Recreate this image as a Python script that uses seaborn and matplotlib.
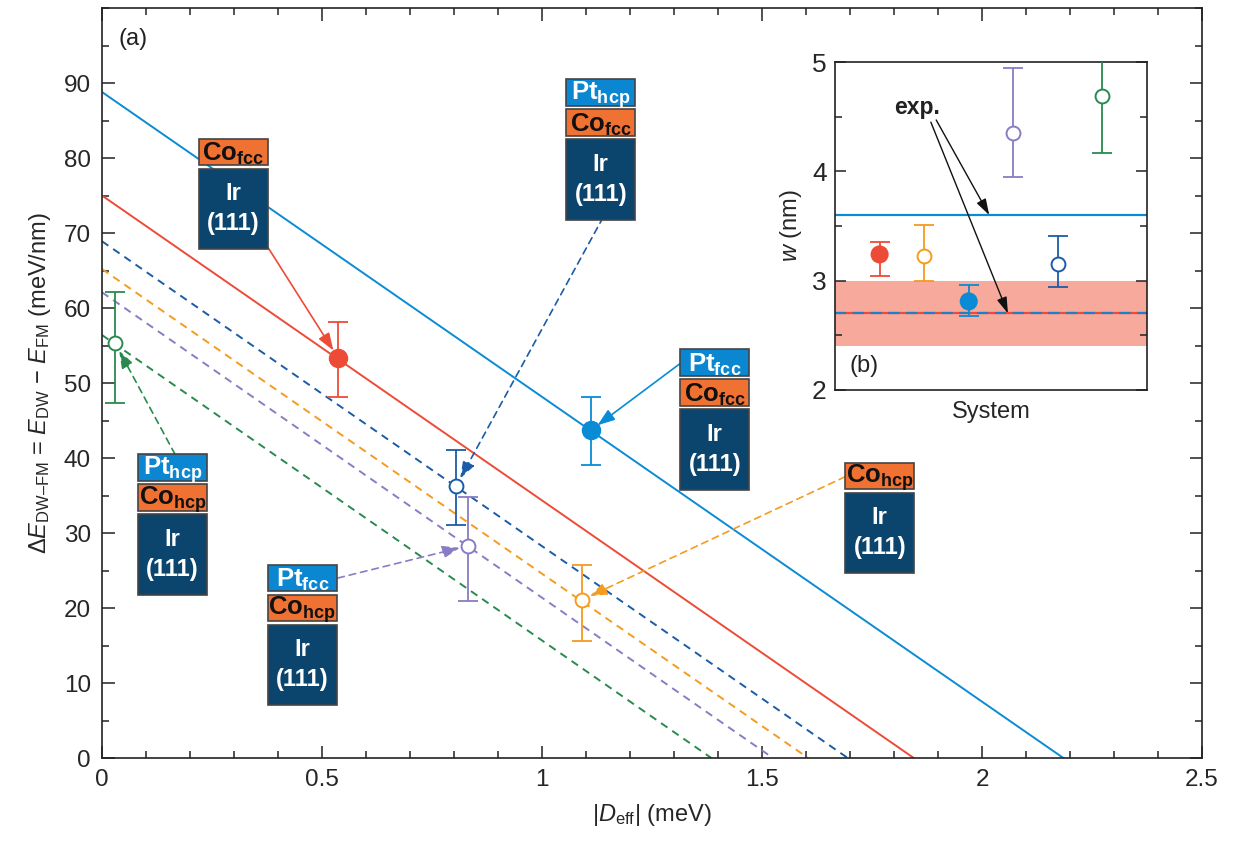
import numpy as np
import pandas as pd
import matplotlib
matplotlib.use('Agg')
import matplotlib.pyplot as plt
import seaborn as sns
from matplotlib.patches import Rectangle
from matplotlib.ticker import MultipleLocator

# ---------------- data ----------------
systems = ['Co_fcc/Ir', 'Co_hcp/Ir', 'Pt_fcc/Co_fcc/Ir', 'Pt_fcc/Co_hcp/Ir',
           'Pt_hcp/Co_fcc/Ir', 'Pt_hcp/Co_hcp/Ir']
colors = ['#EE4B36', '#F59B1E', '#0A8BD6', '#8A7CC4', '#1B5CA8', '#2A8A4E']
filled = [True, False, True, False, False, False]
solid = [True, False, True, False, False, False]
# linear relation Delta E vs |D_eff|: intercept at D=0 and zero crossing
line_y0 = [75.0, 65.2, 88.8, 62.1, 68.9, 56.4]
line_xint = [1.845, 1.605, 2.185, 1.525, 1.695, 1.385]
# computed points
pt_x = [0.536, 1.091, 1.111, 0.832, 0.805, 0.030]
pt_y = [53.4, 21.1, 43.7, 28.3, 36.3, 55.3]
pt_lo = [48.1, 15.6, 39.1, 21.0, 31.1, 47.3]
pt_hi = [58.2, 25.8, 48.1, 34.8, 41.1, 62.2]
# inset: domain wall width w (nm)
w_pos = [1, 2, 3, 4, 5, 6]
w_val = [3.24, 3.23, 2.81, 4.35, 3.15, 4.69]
w_lo = [3.04, 3.00, 2.68, 3.95, 2.94, 4.17]
w_hi = [3.35, 3.51, 2.96, 4.95, 3.41, 5.25]
exp_w_line1 = 3.6
exp_w_line2 = 2.7
exp_band = [2.4, 3.0]
x_ticks = [0, 0.5, 1, 1.5, 2, 2.5]
x_ticklabels = ['0', '0.5', '1', '1.5', '2', '2.5']

# ---------------- style ----------------
sns.set_theme(style='ticks')
plt.rcParams['font.family'] = ['Liberation Sans', 'DejaVu Sans']
plt.rcParams['mathtext.fontset'] = 'custom'
plt.rcParams['mathtext.rm'] = 'Liberation Sans'
plt.rcParams['mathtext.it'] = 'Liberation Sans:italic'
plt.rcParams['mathtext.bf'] = 'Liberation Sans:bold'
plt.rcParams['axes.unicode_minus'] = False

fig = plt.figure(figsize=(12.36, 8.43), dpi=100)
ax = fig.add_axes([0.0825, 0.1008, 0.8900, 0.8897])

for i in range(6):
    df = pd.DataFrame({'D': [0.0, line_xint[i]], 'E': [line_y0[i], 0.0]})
    sns.lineplot(data=df, x='D', y='E', ax=ax, color=colors[i], lw=1.4,
                 linestyle='-' if solid[i] else (0, (4, 3)), zorder=2)

for i in range(6):
    c = colors[i]
    ax.errorbar([pt_x[i]], [pt_y[i]], yerr=[[pt_y[i] - pt_lo[i]], [pt_hi[i] - pt_y[i]]],
                fmt='none', ecolor=c, elinewidth=1.3, capsize=7.5, capthick=1.3, zorder=3)
    if filled[i]:
        ax.plot([pt_x[i]], [pt_y[i]], 'o', ms=13, mfc=c, mec=c, zorder=4)
    else:
        ax.plot([pt_x[i]], [pt_y[i]], 'o', ms=10, mfc='white', mec=c, mew=1.4, zorder=4)

ax.set_xlim(0, 2.5)
ax.set_ylim(0, 100)
ax.set_xticks(x_ticks)
ax.set_xticklabels(x_ticklabels)
ax.xaxis.set_minor_locator(MultipleLocator(0.1))
ax.set_yticks(range(0, 91, 10))
ax.yaxis.set_minor_locator(MultipleLocator(5))
ax.tick_params(which='both', direction='in', top=True, right=True, labelsize=17.5,
               color='#222222', width=1.1)
ax.tick_params(which='major', length=9, pad=8)
ax.tick_params(which='minor', length=5)
for s in ax.spines.values():
    s.set_linewidth(1.2)
    s.set_color('#222222')
ax.set_xlabel(r'|$D_{\rm eff}$| (meV)', fontsize=17, labelpad=8)
ax.set_ylabel(r'$\Delta E_{\rm DW' + '\u2013' + r'FM}$ = $E_{\rm DW}$ ' + '\u2212' +
              r' $E_{\rm FM}$ (meV/nm)', fontsize=17, labelpad=8)
ax.text(0.038, 95.9, '(a)', fontsize=17, va='center', ha='left', color='#222222')

# ---------------- layer stacks ----------------
PT_C, CO_C, IR_C = '#0A87D0', '#F07232', '#0B446C'
BW, TH, GAP, IRH = 0.157, 3.55, 0.45, 10.7


def stack(xl, top, layers):
    y = top
    for name, sub in layers:
        if name == 'Ir':
            h, fc, tc = IRH, IR_C, 'white'
        elif name == 'Pt':
            h, fc, tc = TH, PT_C, 'white'
        else:
            h, fc, tc = TH, CO_C, '#111111'
        ax.add_patch(Rectangle((xl, y - h), BW, h, facecolor=fc, edgecolor='#444444',
                               lw=1.2, zorder=6))
        if name == 'Ir':
            ax.text(xl + BW / 2, y - h / 2, 'Ir\n(111)', color=tc, ha='center', va='center',
                    fontsize=17, fontweight='bold', linespacing=1.4, zorder=7)
        else:
            ax.text(xl + BW / 2, y - h / 2 - 0.25,
                    r'$\mathbf{%s}_{\mathbf{%s}}$' % (name, sub), color=tc,
                    ha='center', va='center', fontsize=18.5, zorder=7)
        y = y - h - GAP


stack(0.220, 82.6, [('Co', 'fcc'), ('Ir', '')])
stack(1.055, 90.5, [('Pt', 'hcp'), ('Co', 'fcc'), ('Ir', '')])
stack(1.314, 54.5, [('Pt', 'fcc'), ('Co', 'fcc'), ('Ir', '')])
stack(1.689, 39.4, [('Co', 'hcp'), ('Ir', '')])
stack(0.082, 40.5, [('Pt', 'hcp'), ('Co', 'hcp'), ('Ir', '')])
stack(0.377, 25.8, [('Pt', 'fcc'), ('Co', 'hcp'), ('Ir', '')])

# arrows from stacks to points (index into data arrays)
arrow_from = {0: (0.377, 68.1), 4: (1.139, 72.1), 2: (1.314, 52.6),
              1: (1.689, 37.5), 5: (0.166, 40.5), 3: (0.536, 24.0)}
for i, (sx, sy) in arrow_from.items():
    ax.annotate('', xy=(pt_x[i], pt_y[i]), xytext=(sx, sy),
                arrowprops=dict(arrowstyle='-|>,head_length=0.7,head_width=0.25',
                                color=colors[i], lw=1.2,
                                linestyle='-' if solid[i] else (0, (4, 3)),
                                shrinkA=0, shrinkB=6, mutation_scale=15),
                zorder=5)

# ---------------- inset ----------------
ax2 = fig.add_axes([0.6756, 0.5374, 0.2524, 0.389])
ax2.axhspan(exp_band[0], exp_band[1], color='#F7A99C', lw=0, zorder=0)
ax2.axhline(exp_w_line1, color=colors[2], lw=1.6, zorder=1)
ax2.axhline(exp_w_line2, color=colors[0], lw=1.6, zorder=1)
ax2.axhline(exp_w_line2, color='#1B7FCC', lw=1.6, ls=(0, (5, 3)), zorder=1)

wdf = pd.DataFrame({'pos': w_pos, 'w': w_val, 'sys': systems})
for i in range(6):
    c = colors[i]
    ax2.errorbar([w_pos[i]], [w_val[i]], yerr=[[w_val[i] - w_lo[i]], [w_hi[i] - w_val[i]]],
                 fmt='none', ecolor=c, elinewidth=1.3, capsize=7.5, capthick=1.3, zorder=3)
sub = wdf[pd.Series(filled)]
sns.scatterplot(data=sub, x='pos', y='w', hue='sys',
                palette=[colors[i] for i in range(6) if filled[i]], s=170,
                edgecolor='none', legend=False, ax=ax2, zorder=4)
open_idx = [i for i in range(6) if not filled[i]]
for i in open_idx:
    ax2.plot([w_pos[i]], [w_val[i]], 'o', ms=10, mfc='white', mec=colors[i], mew=1.4, zorder=4)

ax2.set_xlim(0, 7)
ax2.set_ylim(2, 5)
ax2.set_xticks([])
ax2.yaxis.set_major_locator(MultipleLocator(1))
ax2.yaxis.set_minor_locator(MultipleLocator(0.5))
ax2.tick_params(which='both', direction='in', right=True, labelsize=19, color='#222222',
                width=1.1)
ax2.tick_params(which='major', length=8, pad=6)
ax2.tick_params(which='minor', length=5)
for s in ax2.spines.values():
    s.set_linewidth(1.2)
    s.set_color('#222222')
ax2.set_xlabel('System', fontsize=17, labelpad=8)
ax2.set_ylabel(r'$w$ (nm)', fontsize=17, labelpad=6)
ax2.text(0.33, 2.22, '(b)', fontsize=17, va='center', ha='left', color='#222222')
ax2.text(1.84, 4.58, 'exp.', fontsize=16.5, fontweight='bold', ha='center', va='center',
         color='#222222')
ax2.annotate('', xy=(3.46, exp_w_line1), xytext=(2.27, 4.47),
             arrowprops=dict(arrowstyle='-|>,head_length=0.7,head_width=0.22', color='#111111',
                             lw=1.0, shrinkA=0, shrinkB=0, mutation_scale=14))
ax2.annotate('', xy=(3.88, exp_w_line2), xytext=(2.15, 4.45),
             arrowprops=dict(arrowstyle='-|>,head_length=0.7,head_width=0.22', color='#111111',
                             lw=1.0, shrinkA=0, shrinkB=0, mutation_scale=14))

fig.savefig('out.png', dpi=100)
